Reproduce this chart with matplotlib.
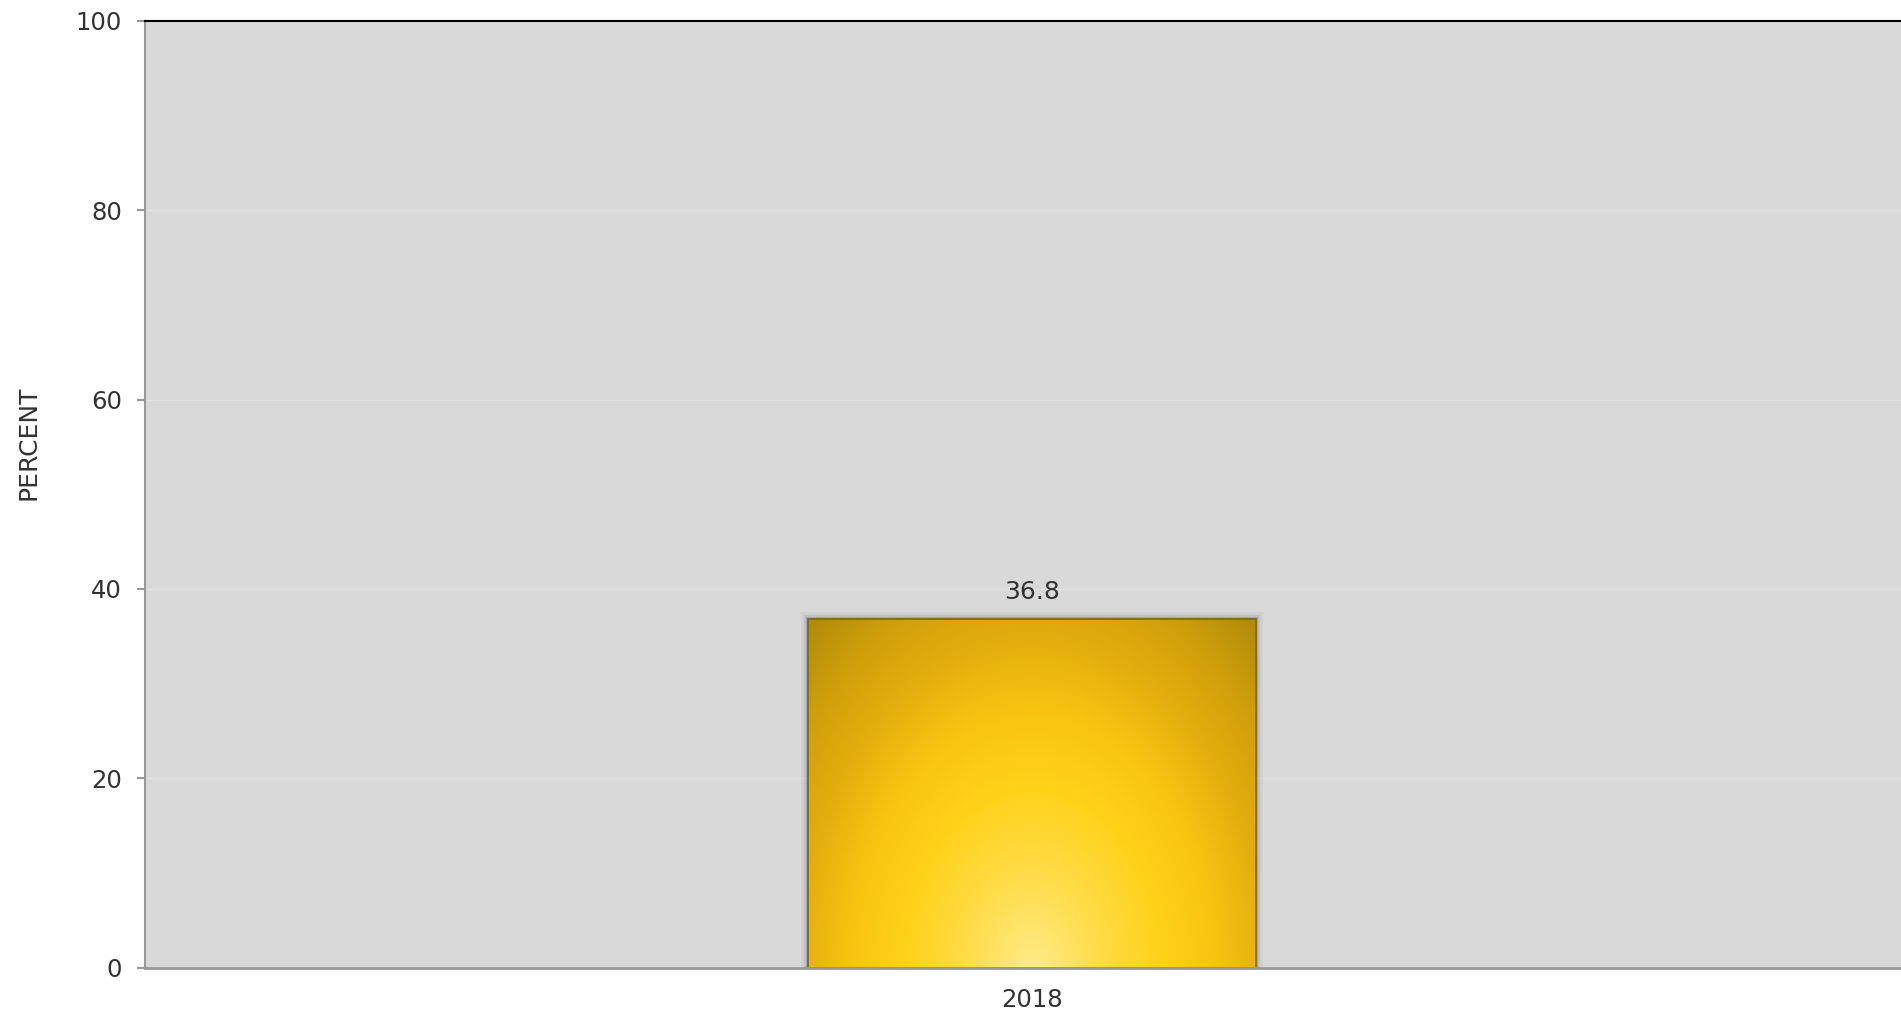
import numpy as np
import matplotlib
matplotlib.use('Agg')
import matplotlib.pyplot as plt
import matplotlib.patheffects as pe
from matplotlib.colors import LinearSegmentedColormap

# data
years = ['2018']
percent = [36.8]
y_ticks = [0, 20, 40, 60, 80, 100]

plt.rcParams['font.family'] = ['DejaVu Sans']
text_col = '#333333'

fig = plt.figure(figsize=(19.01, 10.14), dpi=100)
ax = fig.add_axes([0.0763, 0.0457, 0.9332, 0.9336])
ax.set_facecolor('#d9d9d9')

x = np.arange(len(years))
bars = ax.bar(x, percent, width=0.253, color='#e8b40c', zorder=2,
              edgecolor='none')
ax.set_xlim(-0.5, len(years) - 0.5)
ax.set_ylim(0, 100)

# radial gold gradient inside each bar, lightest at the bottom centre
gold = LinearSegmentedColormap.from_list('gold', [
    (0.0, '#ffeb88'), (0.2, '#ffdc48'), (0.38, '#ffd21a'),
    (0.55, '#f8c411'), (0.7, '#e3ae0d'), (0.85, '#cf9f0b'), (1.0, '#b08a0a')])
gu, gv = np.meshgrid(np.linspace(-1, 1, 300), np.linspace(0, 1, 300))
rad = np.sqrt((gu * 0.95) ** 2 + (gv * 1.05) ** 2) / np.sqrt(2)
for b in bars:
    b.set_path_effects([
        pe.Stroke(linewidth=10, foreground='#7a7a7a', alpha=0.08),
        pe.Stroke(linewidth=6, foreground='#6a6a6a', alpha=0.14),
        pe.Stroke(linewidth=3, foreground='#5a5a5a', alpha=0.25),
        pe.Normal()])
    x0, w, h = b.get_x(), b.get_width(), b.get_height()
    im = ax.imshow(rad, cmap=gold, origin='lower', aspect='auto',
                   extent=[x0, x0 + w, 0, h], zorder=3, vmin=0, vmax=1,
                   interpolation='bicubic')
    im.set_clip_path(b)
    ax.add_patch(plt.Rectangle((x0, 0), w, h, fill=False,
                               edgecolor='#7c6a24', linewidth=1.3, zorder=4))
    ax.annotate(f'{h:.1f}', (x0 + w / 2, h), xytext=(0, 11),
                textcoords='offset points', ha='center', va='bottom',
                fontsize=18, color=text_col, zorder=5)

ax.set_yticks(y_ticks)
ax.set_yticklabels([str(t) for t in y_ticks])
ax.set_xticks(x)
ax.set_xticklabels(years)
ax.tick_params(axis='y', length=6, width=1.5, color='#999999', pad=10.5,
               labelsize=17.5, labelcolor=text_col)
ax.tick_params(axis='x', length=0, pad=15, labelsize=17.5, labelcolor=text_col)
ax.grid(axis='y', color='#e2e2e2', linewidth=1, zorder=1)
ax.set_axisbelow(True)

ax.spines['left'].set_color('#999999')
ax.spines['left'].set_linewidth(1.5)
ax.spines['bottom'].set_color('#999999')
ax.spines['bottom'].set_linewidth(2)
ax.spines['bottom'].set_zorder(6)
ax.spines['top'].set_color('#000000')
ax.spines['top'].set_linewidth(1.5)
ax.spines['right'].set_visible(False)

fig.text(28 / 1901, 1 - 443 / 1014, 'PERCENT', rotation=90, ha='center',
         va='center', fontsize=18, color=text_col)

fig.savefig('out.png', dpi=100, facecolor='white')
